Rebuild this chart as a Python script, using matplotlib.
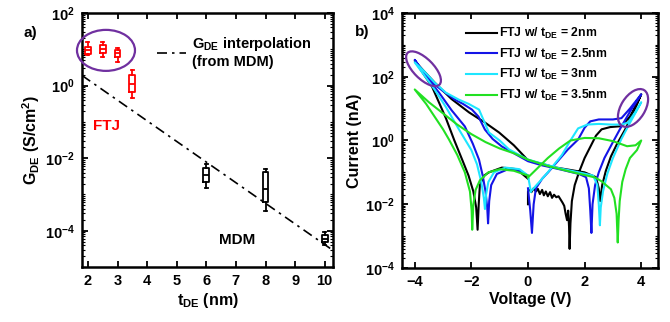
import numpy as np
import matplotlib
matplotlib.use('Agg')
import matplotlib.pyplot as plt
from matplotlib.patches import Ellipse
from matplotlib.transforms import ScaledTranslation
from matplotlib.ticker import FixedLocator, FuncFormatter, LogLocator, NullFormatter

# ---- panel a) box data, log10 of G_DE (S/cm^2)
ftj_t = [2, 2.5, 3, 3.5]
ftj_lo = [0.83, 0.79, 0.65, -0.34]
ftj_q1 = [0.88, 0.90, 0.79, -0.19]
ftj_med = [0.97, 1.00, 0.89, 0.03]
ftj_q3 = [1.06, 1.11, 0.97, 0.28]
ftj_hi = [1.19, 1.19, 1.04, 0.42]

mdm_t = [6, 8, 10]
mdm_lo = [-2.83, -3.47, -4.40]
mdm_q1 = [-2.67, -3.22, -4.31]
mdm_med = [-2.47, -2.86, -4.22]
mdm_q3 = [-2.28, -2.39, -4.11]
mdm_hi = [-2.17, -2.31, -4.03]

interp_t = [1.8, 10.3]
interp_g = [1.9, 2.8e-5]

# ---- panel b) I-V loops, voltage (V) and log10 of current (nA)
black_v = [0.0, 0.0, 0.05, 0.12, 0.2, 0.28, 0.35, 0.42, 0.5, 0.56, 0.63, 0.7, 0.78, 0.85, 0.92, 1.0,
           1.08, 1.15, 1.22, 1.28, 1.33, 1.38, 1.42, 1.45, 1.47, 1.5, 1.55, 1.65, 1.8, 2.0, 2.2, 2.4,
           2.6, 2.9, 3.3, 3.6, 3.85, 4.0, 3.7, 3.43, 3.15, 2.93, 2.75, 2.62, 2.55, 2.5, 2.4, 2.0,
           1.0, 0.0, -0.5, -1.02, -1.5, -2.08, -2.7, -3.29, -3.7, -4.0, -3.7, -3.39, -2.9, -2.6,
           -2.33, -2.1, -1.93, -1.83, -1.78, -1.74, -1.7, -1.55, -1.38, -0.92, -0.4, 0.0]
black_logi = [-2.0, -1.6, -1.55, -1.62, -1.5, -1.6, -1.52, -1.68, -1.55, -1.72, -1.6, -1.75, -1.62, -1.8, -1.7, -1.78,
              -1.75, -1.85, -1.95, -2.05, -2.3, -2.5, -2.2, -2.7, -3.4, -2.6, -1.9, -1.4, -1.0, -0.55, -0.2, 0.15,
              0.35, 0.42, 0.45, 0.75, 1.15, 1.45, 0.85, 0.34, -0.1, -0.5, -0.95, -1.4, -1.9, -1.5, -1.15, -1.0,
              -0.85, -0.62, -0.15, 0.25, 0.55, 0.88, 1.3, 1.81, 2.2, 2.5, 2.1, 1.69, 0.7, 0.0,
              -0.59, -1.1, -1.6, -2.1, -2.8, -2.0, -1.4, -1.1, -1.0, -0.85, -0.9, -1.2]

blue_v = [0.0, 0.08, 0.14, 0.2, 0.28, 0.5, 0.71, 1.0, 1.41, 1.77, 2.0, 2.2, 2.5, 3.0, 3.3, 3.6, 4.0,
          3.6, 3.3, 3.0, 2.7, 2.5, 2.37, 2.28, 2.24, 2.2, 2.15, 2.05, 1.8, 1.2, 0.5, 0.0,
          -0.5, -0.92, -1.25, -1.52, -1.75, -1.98, -2.3, -2.58, -3.0, -3.29, -3.7, -4.0,
          -3.6, -3.14, -2.7, -2.23, -1.95, -1.73, -1.6, -1.5, -1.44, -1.41, -1.37, -1.3, -1.1, -0.7, -0.3, 0.0]
blue_logi = [-1.5, -2.2, -2.9, -2.0, -1.5, -1.2, -1.0, -0.7, -0.28, 0.03, 0.4, 0.6, 0.66, 0.66, 0.7, 1.0, 1.45,
             0.9, 0.44, -0.05, -0.55, -1.0, -1.4, -2.0, -2.9, -2.2, -1.5, -1.15, -1.05, -0.92, -0.78, -0.65,
             -0.4, -0.19, 0.05, 0.34, 0.75, 0.97, 1.15, 1.28, 1.55, 1.75, 2.15, 2.53,
             2.0, 1.5, 0.95, 0.44, -0.1, -0.6, -1.1, -1.6, -2.1, -2.6, -1.9, -1.4, -1.05, -0.9, -0.95, -1.1]

cyan_v = [0.1, 0.3, 0.7, 1.2, 1.5, 1.77, 2.1, 2.5, 2.93, 3.3, 3.53, 3.8, 4.0,
          3.6, 3.3, 3.0, 2.8, 2.65, 2.57, 2.54, 2.5, 2.45, 2.3, 1.8, 1.0, 0.0,
          -0.67, -1.0, -1.38, -1.55, -1.73, -2.1, -2.44, -2.9, -3.29, -3.7, -4.0,
          -3.75, -3.3, -2.9, -2.44, -2.0, -1.8, -1.65, -1.56, -1.52, -1.48, -1.4, -1.2, -0.8, -0.3, 0.0, 0.1]
cyan_logi = [-1.6, -1.4, -1.0, -0.45, 0.0, 0.38, 0.5, 0.52, 0.5, 0.5, 0.56, 0.9, 1.2,
             0.55, 0.05, -0.55, -1.05, -1.6, -2.1, -2.66, -2.0, -1.4, -1.1, -1.0, -0.85, -0.6,
             -0.28, 0.0, 0.25, 0.6, 0.97, 1.15, 1.28, 1.5, 1.81, 2.2, 2.45,
             2.15, 1.6, 1.05, 0.35, -0.3, -0.75, -1.3, -1.8, -2.15, -1.7, -1.3, -1.0, -0.85, -0.9, -1.1, -1.6]

green_v = [0.0, 0.3, 0.7, 1.1, 1.5, 2.0, 2.5, 3.0, 3.5, 3.8, 4.0,
           3.85, 3.6, 3.45, 3.33, 3.24, 3.2, 3.17, 3.13, 3.05, 2.93, 2.6, 2.37, 1.5, 0.7, 0.0,
           -0.5, -1.0, -1.5, -2.0, -2.5, -3.0, -3.5, -4.0,
           -3.6, -3.3, -3.0, -2.79, -2.5, -2.23, -2.05, -1.99, -1.97, -1.93, -1.85, -1.7, -1.4, -1.0, -0.5, 0.0]
green_logi = [-1.16, -0.9, -0.55, -0.25, 0.0, 0.08, 0.07, -0.02, -0.18, -0.15, 0.0,
              -0.3, -0.55, -0.9, -1.3, -1.9, -2.5, -3.2, -2.3, -1.8, -1.53, -1.28, -1.16, -0.98, -0.8, -0.6,
              -0.4, -0.25, -0.05, 0.2, 0.5, 0.85, 1.2, 1.6,
              1.15, 0.75, 0.35, 0.03, -0.45, -1.0, -1.6, -2.2, -2.8, -2.0, -1.55, -1.25, -1.0, -0.9, -0.95, -1.1]

iv_labels = [r'FTJ w/ t$_{DE}$ = 2nm', r'FTJ w/ t$_{DE}$ = 2.5nm',
             r'FTJ w/ t$_{DE}$ = 3nm', r'FTJ w/ t$_{DE}$ = 3.5nm']

plt.rcParams['font.family'] = 'Liberation Sans'
plt.rcParams['font.weight'] = 'bold'
plt.rcParams['axes.labelweight'] = 'bold'
plt.rcParams['mathtext.fontset'] = 'custom'
plt.rcParams['mathtext.rm'] = 'Liberation Sans:bold'
plt.rcParams['mathtext.it'] = 'Liberation Sans:bold'
plt.rcParams['mathtext.bf'] = 'Liberation Sans:bold'
plt.rcParams['axes.linewidth'] = 1.8

purple = '#7030a0'

fig = plt.figure(figsize=(6.7, 3.22), dpi=100)
ax1 = fig.add_axes([0.1224, 0.1708, 0.3746, 0.7888])
ax2 = fig.add_axes([0.6, 0.1677, 0.382, 0.792])


def logfmt(v, p):
    return r'$\mathbf{10^{%d}}$' % int(round(np.log10(v)))


def ring(ax, x, y, w, h, ang):
    tr = fig.dpi_scale_trans + ScaledTranslation(x, y, ax.transData)
    ax.add_patch(Ellipse((0, 0), w, h, angle=ang, transform=tr, fill=False,
                         ec=purple, lw=1.6, clip_on=False, zorder=5))


def boxstats(lo, q1, med, q3, hi):
    out = []
    for i in range(len(med)):
        out.append(dict(whislo=10**lo[i], q1=10**q1[i], med=10**med[i],
                        q3=10**q3[i], whishi=10**hi[i], fliers=[]))
    return out


# ---------------- a)
ax1.set_yscale('log')
ax1.plot(interp_t, interp_g, color='k', ls=(0, (6, 3, 1.5, 3)), lw=1.2,
         label='G$_{DE}$ interpolation\n(from MDM)')
for stats, pos, col in [(boxstats(ftj_lo, ftj_q1, ftj_med, ftj_q3, ftj_hi), ftj_t, 'red'),
                        (boxstats(mdm_lo, mdm_q1, mdm_med, mdm_q3, mdm_hi), mdm_t, 'black')]:
    lp = dict(color=col, lw=1.3)
    ax1.bxp(stats, positions=pos, widths=0.2, capwidths=0.1, boxprops=lp, medianprops=lp,
            whiskerprops=lp, capprops=lp, manage_ticks=False, showfliers=False)

ax1.set_xlim(1.8, 10.28)
ax1.set_ylim(1e-5, 1e2)
ax1.set_xticks(range(2, 11))
ax1.yaxis.set_major_locator(FixedLocator([1e-4, 1e-2, 1e0, 1e2]))
ax1.yaxis.set_minor_locator(LogLocator(base=10, subs=np.arange(1, 10), numticks=20))
ax1.yaxis.set_major_formatter(FuncFormatter(logfmt))
ax1.yaxis.set_minor_formatter(NullFormatter())
ax1.set_xlabel(r't$_{DE}$ (nm)', fontsize=11.5, labelpad=2)
ax1.set_ylabel(r'G$_{DE}$ (S/cm$^2$)', fontsize=11.5, labelpad=2)
ax1.text(2.64, 0.078, 'FTJ', color='red', fontsize=11, ha='center', va='center')
ax1.text(7.03, 10**-4.25, 'MDM', color='k', fontsize=11, ha='center', va='center')
ax1.legend(loc='center left', bbox_to_anchor=(0.30, 0.846), frameon=False, fontsize=10.5,
           handlelength=2.0, handletextpad=0.4, borderpad=0, borderaxespad=0)
ring(ax1, 2.61, 10**0.97, 0.58, 0.41, 0)

# ---------------- b)
ax2.set_yscale('log')
for v, li, col, lab in [(black_v, black_logi, 'k', iv_labels[0]),
                        (blue_v, blue_logi, '#1414e6', iv_labels[1]),
                        (cyan_v, cyan_logi, '#1ee6ff', iv_labels[2]),
                        (green_v, green_logi, '#22e022', iv_labels[3])]:
    ax2.plot(v, 10.0**np.array(li), color=col, lw=1.5, label=lab)

ax2.set_xlim(-4.45, 4.59)
ax2.set_ylim(1e-4, 1e4)
ax2.set_xticks([-4, -2, 0, 2, 4])
ax2.yaxis.set_major_locator(FixedLocator([1e-4, 1e-2, 1e0, 1e2, 1e4]))
ax2.yaxis.set_minor_locator(LogLocator(base=10, subs=np.arange(1, 10), numticks=20))
ax2.yaxis.set_major_formatter(FuncFormatter(logfmt))
ax2.yaxis.set_minor_formatter(NullFormatter())
ax2.set_xlabel('Voltage (V)', fontsize=11.5, labelpad=2)
ax2.set_ylabel('Current (nA)', fontsize=11.5, labelpad=2)
ax2.legend(loc='center left', bbox_to_anchor=(0.25, 0.798), frameon=False, fontsize=8.8,
           handlelength=2.5, handletextpad=0.2, labelspacing=0.45, borderpad=0, borderaxespad=0)
ring(ax2, -3.69, 10**2.25, 0.45, 0.20, -45)
ring(ax2, 3.71, 10**1.02, 0.42, 0.24, 58)

for ax in (ax1, ax2):
    ax.tick_params(which='major', direction='in', top=True, right=True, length=4, width=1.3,
                   labelsize=10.5, pad=5)
    ax.tick_params(which='minor', direction='in', top=True, right=True, length=2, width=0.8)
    for lab in ax.get_xticklabels() + ax.get_yticklabels():
        lab.set_fontweight('bold')

fig.text(0.045, 0.897, 'a)', fontsize=11, ha='center', va='center')
fig.text(0.54, 0.9, 'b)', fontsize=11, ha='center', va='center')

fig.savefig('out.png', dpi=100)
